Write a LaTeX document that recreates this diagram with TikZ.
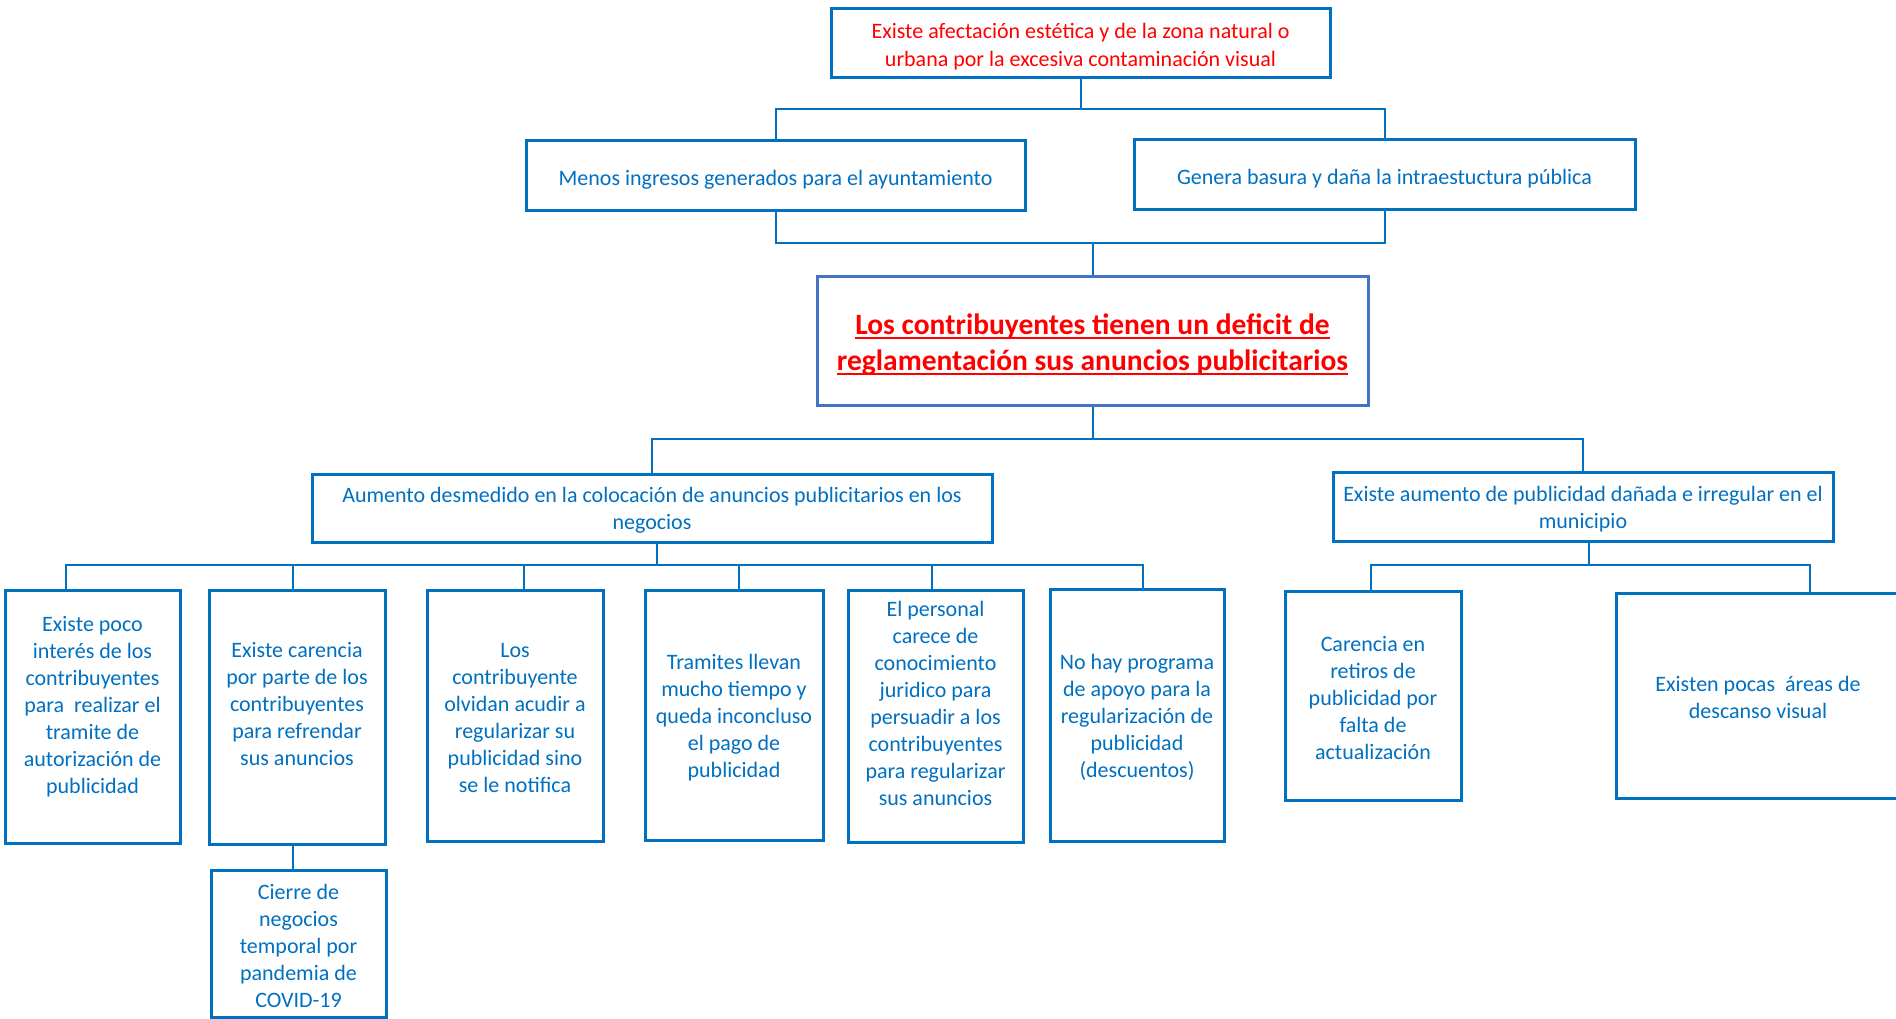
\documentclass[tikz,border=0pt]{standalone}
\usepackage{fontspec}
\setmainfont{Carlito}
\definecolor{wblue}{HTML}{0070C0}
\definecolor{cblue}{HTML}{4472C4}
\definecolor{wred}{HTML}{FF0000}
\newcommand\redul[1]{\setbox0=\hbox{#1}\rlap{\rule[-4.5pt]{\wd0}{2pt}}\box0}
\begin{document}
\begin{tikzpicture}[x=1pt,y=-1pt,
  frame/.style={draw=wblue,line width=3pt,fill=white,rectangle,inner sep=0pt},
  txt/.style={align=center,text=wblue,inner sep=0pt,font=\fontsize{22}{27}\selectfont},
  link/.style={draw=wblue,line width=2pt}]
\useasboundingbox (0,0) rectangle (1896,1019);
% level 0
\node[frame,minimum width=499,minimum height=69,
  label={[txt,text=wred,font=\fontsize{22}{28}\selectfont,yshift=-3pt]center:{Existe afectación estética y de la zona natural o\\urbana por la excesiva contaminación visual}}] (top) at (1080.5,43.5) {};
% level 1
\node[frame,minimum width=499,minimum height=70,
  label={[txt,yshift=-3.5pt]center:{Menos ingresos generados para el ayuntamiento}}] (menos) at (775.5,176) {};
\node[frame,minimum width=501,minimum height=70,
  label={[txt,yshift=-3.5pt]center:{Genera basura y daña la intraestuctura pública}}] (genera) at (1384.5,175) {};
% center
\node[frame,draw=cblue,minimum width=551,minimum height=129,
  label={[txt,text=wred,font=\fontsize{29.5}{36}\selectfont\bfseries,yshift=-4pt]center:{\redul{Los contribuyentes tienen un deficit de}\\\redul{reglamentación sus anuncios publicitarios}}}] (center) at (1092.5,340.5) {};
% level 2
\node[frame,minimum width=680,minimum height=68,
  label={[txt,yshift=-2.5pt]center:{Aumento desmedido en la colocación de anuncios publicitarios en los\\negocios}}] (aum) at (652,508) {};
\node[frame,minimum width=500,minimum height=69,
  label={[txt,yshift=-3pt]center:{Existe aumento de publicidad dañada e irregular en el\\municipio}}] (exa) at (1583,506.5) {};
% leaves
\node[frame,minimum width=175,minimum height=253,
  label={[txt,yshift=10pt]center:{Existe poco\\interés de los\\contribuyentes\\para\ \ realizar el\\tramite de\\autorización de\\publicidad}}] (l1) at (92.5,716.5) {};
\node[frame,minimum width=176,minimum height=254,
  label={[txt,yshift=12.5pt]center:{Existe carencia\\por parte de los\\contribuyentes\\para refrendar\\sus anuncios}}] (l2) at (297,717) {};
\node[frame,minimum width=176,minimum height=251,
  label={[txt,yshift=-2.5pt]center:{Los\\contribuyente\\olvidan acudir a\\regularizar su\\publicidad sino\\se le notifica}}] (l3) at (515,715.5) {};
\node[frame,minimum width=178,minimum height=250,
  label={[txt,yshift=-3pt]center:{Tramites llevan\\mucho tiempo y\\queda inconcluso\\el pago de\\publicidad}}] (l4) at (734,715) {};
\node[frame,minimum width=175,minimum height=252,
  label={[txt,yshift=12.5pt]center:{El personal\\carece de\\conocimiento\\juridico para\\persuadir a los\\contribuyentes\\para regularizar\\sus anuncios}}] (l5) at (935.5,716) {};
\node[frame,minimum width=174,minimum height=252,
  label={[txt,yshift=-2.5pt]center:{No hay programa\\de apoyo para la\\regularización de\\publicidad\\(descuentos)}}] (l6) at (1137,715) {};
\node[frame,minimum width=175,minimum height=147,
  label={[txt,yshift=-2.5pt]center:{Cierre de\\negocios\\temporal por\\pandemia de\\COVID-19}}] (cierre) at (298.5,943.5) {};
\node[frame,minimum width=176,minimum height=209,
  label={[txt,yshift=-2.5pt]center:{Carencia en\\retiros de\\publicidad por\\falta de\\actualización}}] (car) at (1373,695.5) {};
\node[frame,minimum width=284,minimum height=205,
  label={[txt,yshift=-1.5pt]center:{Existen pocas\ \ áreas de\\descanso visual}}] (pocas) at (1758,695.5) {};
% connectors
\draw[link] (top.south) -- (top.south |- 0,109);
\draw[link] (menos.north) -- (menos.north |- 0,109) -- (genera.north |- 0,109) -- (genera.north);
\draw[link] (menos.south) -- (menos.south |- 0,243) -- (genera.south |- 0,243) -- (genera.south);
\draw[link] (center.north) -- (center.north |- 0,243);
\draw[link] (center.south) -- (center.south |- 0,439);
\draw[link] (aum.north) -- (aum.north |- 0,439) -- (exa.north |- 0,439) -- (exa.north);
\draw[link] ([xshift=5]aum.south) -- ([xshift=5]aum.south |- 0,565);
\draw[link] ([xshift=-26.5]l1.north) -- ([xshift=-26.5]l1.north |- 0,565) -- ([xshift=6]l6.north |- 0,565) -- ([xshift=6]l6.north);
\draw[link] ([xshift=-4]l2.north) -- ([xshift=-4]l2.north |- 0,565);
\draw[link] ([xshift=9]l3.north) -- ([xshift=9]l3.north |- 0,565);
\draw[link] ([xshift=5]l4.north) -- ([xshift=5]l4.north |- 0,565);
\draw[link] ([xshift=-3.5]l5.north) -- ([xshift=-3.5]l5.north |- 0,565);
\draw[link] ([xshift=-4]l2.south) -- ([xshift=-4]l2.south |- cierre.north);
\draw[link] ([xshift=6]exa.south) -- ([xshift=6]exa.south |- 0,565);
\draw[link] ([xshift=-2]car.north) -- ([xshift=-2]car.north |- 0,565) -- ([xshift=52]pocas.north |- 0,565) -- ([xshift=52]pocas.north);
\end{tikzpicture}
\end{document}
